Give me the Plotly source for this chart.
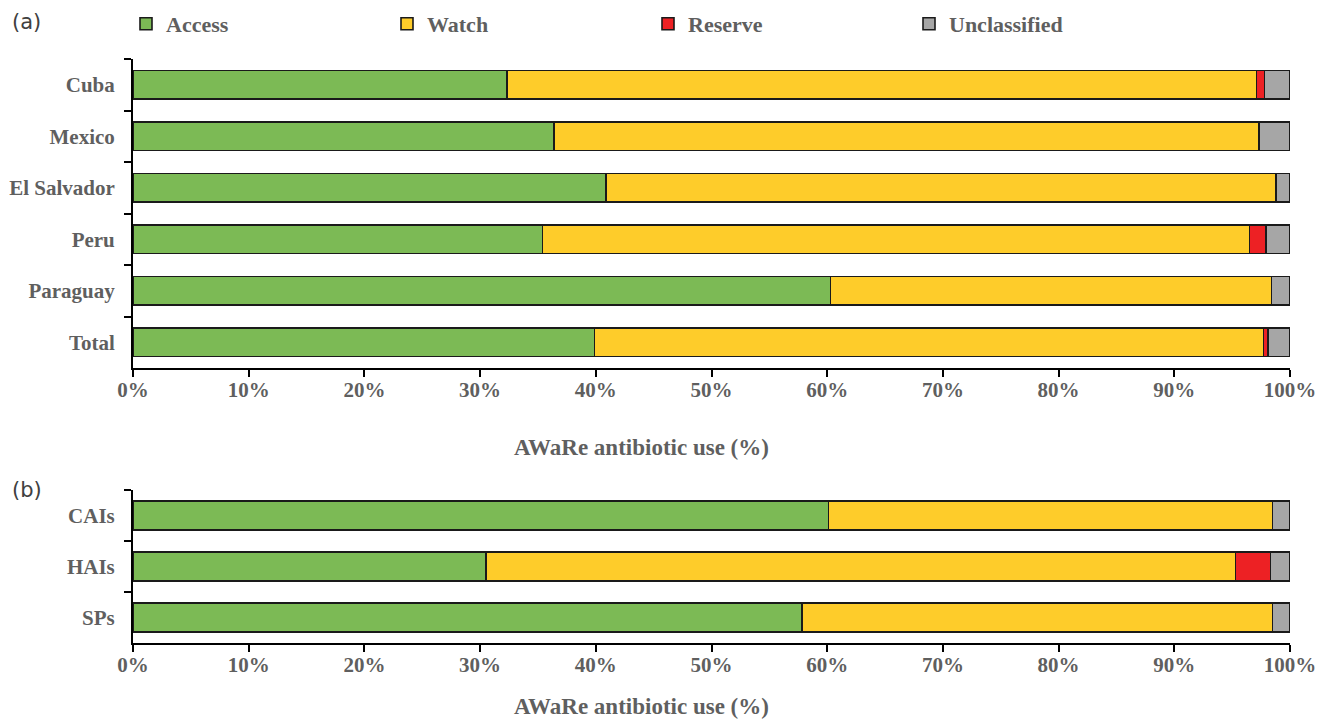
import plotly.graph_objects as go

# Panel (a): countries
countries = ["Cuba", "Mexico", "El Salvador", "Peru", "Paraguay", "Total"]
a_access = [32.3, 36.4, 40.9, 35.4, 60.3, 39.9]
a_watch = [64.8, 60.9, 57.9, 61.1, 38.1, 57.8]
a_reserve = [0.7, 0.0, 0.0, 1.4, 0.0, 0.4]
a_unclass = [2.2, 2.7, 1.2, 2.1, 1.6, 1.9]

# Panel (b): infection types
groups = ["CAIs", "HAIs", "SPs"]
b_access = [60.1, 30.5, 57.8]
b_watch = [38.4, 64.8, 40.7]
b_reserve = [0.0, 3.0, 0.0]
b_unclass = [1.5, 1.7, 1.5]

x_ticks = [0, 10, 20, 30, 40, 50, 60, 70, 80, 90, 100]
x_tick_labels = [f"{t}%" for t in x_ticks]
x_title = "AWaRe antibiotic use (%)"

series_names = ["Access", "Watch", "Reserve", "Unclassified"]
colors = ["#7cba55", "#fecc2a", "#ed2124", "#a6a6a6"]

TXT = "#5f5f5f"
FONT = "Liberation Serif"

fig = go.Figure()

a_data = [a_access, a_watch, a_reserve, a_unclass]
b_data = [b_access, b_watch, b_reserve, b_unclass]

for name, col, vals in zip(series_names, colors, a_data):
    fig.add_trace(go.Bar(
        y=countries, x=vals, orientation="h", name=name,
        marker=dict(color=col, line=dict(color="#1a1a1a", width=1.6)),
        xaxis="x", yaxis="y", legendgroup=name, showlegend=True,
    ))
for name, col, vals in zip(series_names, colors, b_data):
    fig.add_trace(go.Bar(
        y=groups, x=vals, orientation="h", name=name,
        marker=dict(color=col, line=dict(color="#1a1a1a", width=1.6)),
        xaxis="x2", yaxis="y2", legendgroup=name, showlegend=False,
    ))

W, H = 1327, 719
xdom = [133 / W, 1290 / W]

xaxis_common = dict(
    range=[0, 100], tickvals=x_ticks, ticktext=x_tick_labels,
    showline=True, linecolor="#000000", linewidth=2,
    ticks="outside", ticklen=7, tickwidth=2, tickcolor="#000000",
    showgrid=False, zeroline=False, automargin=False,
    tickfont=dict(family=FONT, size=21, color=TXT, weight="bold"),
    ticklabelstandoff=-5,
)
yaxis_common = dict(
    type="category", showline=True, linecolor="#000000", linewidth=2,
    ticks="outside", ticklen=7, tickwidth=2, tickcolor="#000000",
    tickson="boundaries", showgrid=False, zeroline=False, automargin=False,
    tickfont=dict(family=FONT, size=21, color=TXT, weight="bold"),
    ticklabelstandoff=12,
)

title_font = dict(family=FONT, size=23, color=TXT, weight="bold")
panel_font = dict(family="DejaVu Sans", size=21, color="#404040")

fig.update_layout(
    width=W, height=H,
    margin=dict(l=0, r=0, t=0, b=0, autoexpand=False),
    paper_bgcolor="white", plot_bgcolor="white",
    barmode="stack", bargap=0.44,
    xaxis=dict(domain=xdom, anchor="y", **xaxis_common),
    yaxis=dict(domain=[1 - 368 / H, 1 - 59 / H], anchor="x",
               range=[5.5, -0.5], categoryorder="array", categoryarray=countries,
               **yaxis_common),
    xaxis2=dict(domain=xdom, anchor="y2", **xaxis_common),
    yaxis2=dict(domain=[1 - 643 / H, 1 - 490 / H], anchor="x2",
                range=[2.5, -0.5], categoryorder="array", categoryarray=groups,
                **yaxis_common),
    legend=dict(
        orientation="h", x=126 / W, xanchor="left", y=1 - 24 / H, yanchor="middle",
        entrywidth=216, entrywidthmode="pixels",
        font=dict(family=FONT, size=22, color=TXT, weight="bold"),
        bgcolor="rgba(0,0,0,0)", traceorder="normal",
    ),
    showlegend=True,
    annotations=[
        dict(text="(a)", x=10 / W, y=1 - 22 / H, xref="paper", yref="paper",
             xanchor="left", yanchor="middle", showarrow=False, font=panel_font),
        dict(text="(b)", x=10 / W, y=1 - 490 / H, xref="paper", yref="paper",
             xanchor="left", yanchor="middle", showarrow=False, font=panel_font),
        dict(text=x_title, x=641 / W, y=1 - 447 / H, xref="paper", yref="paper",
             xanchor="center", yanchor="middle", showarrow=False, font=title_font),
        dict(text=x_title, x=641 / W, y=1 - 706 / H, xref="paper", yref="paper",
             xanchor="center", yanchor="middle", showarrow=False, font=title_font),
    ],
)

fig.write_html("out.html")
